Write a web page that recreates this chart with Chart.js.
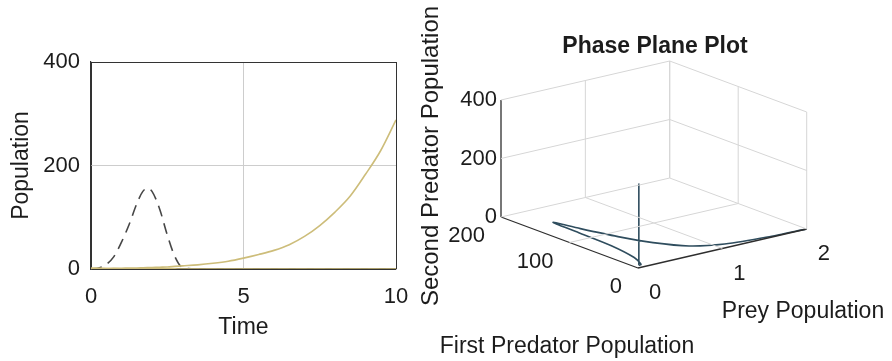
<!DOCTYPE html>
<html>
<head>
<meta charset="utf-8">
<script src="https://cdn.jsdelivr.net/npm/chart.js@4.4.0/dist/chart.umd.min.js"></script>
<style>
  body { margin: 0; background: #fff; }
  #wrap { position: relative; width: 892px; height: 361px; overflow: hidden; }
  #left { position: absolute; left: 0; top: 0; }
  #right { position: absolute; left: 410px; top: 0; }
</style>
</head>
<body>
<div id="wrap">
  <canvas id="left" width="410" height="361"></canvas>
  <canvas id="right" width="482" height="361"></canvas>
</div>
<script>
// values
var timeValues     = [0, 0.25, 0.5, 0.75, 1, 1.25, 1.5, 1.7, 1.85, 2, 2.25, 2.5, 2.75, 3, 3.5, 4, 4.5, 5, 5.5, 6, 6.5, 7, 7.5, 8, 8.5, 9, 9.5, 10];
var preyValues     = [2, 1.55, 1.1, 0.8, 0.6, 0.46, 0.34, 0.28, 0.26, 0.25, 0.24, 0.22, 0.15, 0.06, 0.02, 0.01, 0.01, 0.01, 0.01, 0.01, 0.01, 0.01, 0.01, 0.01, 0.01, 0.01, 0.01, 0.01];
var firstPredator  = [0, 2, 9, 24, 52, 86, 126, 150, 156, 150, 116, 66, 24, 3, 0.3, 0, 0, 0, 0, 0, 0, 0, 0, 0, 0, 0, 0, 0];
var secondPredator = [0.5, 0.7, 1, 1.2, 1.5, 1.7, 2, 2.4, 2.7, 3, 3.5, 4, 5, 6, 8, 11, 15, 21, 28, 36, 47, 63, 84, 110, 141, 183, 229, 288];

var timeTicks = [0, 5, 10];
var popTicks  = [0, 200, 400];
var preyTicks = [0, 1, 2];
var fpTicks   = [0, 100, 200];
var spTicks   = [0, 200, 400];

var FONT = '"Liberation Sans", Arial, sans-serif';
var TEXT = '#1c1c1c';

function series(values) {
  return timeValues.map(function (t, i) { return { x: t, y: values[i] }; });
}

// ---------- left: population against time ----------
new Chart("left", {
  type: "line",
  data: {
    datasets: [
      { data: series(secondPredator), borderColor: '#cdbd7a', borderWidth: 1.6, pointRadius: 0, fill: false, cubicInterpolationMode: 'monotone' },
      { data: series(preyValues), borderColor: '#cdbd7a', borderWidth: 1.6, pointRadius: 0, fill: false, cubicInterpolationMode: 'monotone' },
      { data: series(firstPredator), borderColor: '#474747', borderWidth: 1.6, borderDash: [11, 7], pointRadius: 0, fill: false, cubicInterpolationMode: 'monotone' }
    ]
  },
  options: {
    responsive: false,
    animation: false,
    layout: { padding: { left: 0, top: 62, right: 14, bottom: 0 } },
    plugins: { legend: { display: false }, tooltip: { enabled: false } },
    scales: {
      x: {
        type: 'linear', min: 0, max: 10,
        afterBuildTicks: function (s) { s.ticks = timeTicks.map(function (v) { return { value: v }; }); },
        afterFit: function (s) { s.height = 92; s.paddingLeft = 0; s.paddingRight = 0; },
        ticks: { color: TEXT, font: { family: FONT, size: 22 }, padding: 15, maxRotation: 0 },
        grid: {
          drawTicks: false,
          color: function (c) { return (c.tick && (c.tick.value === 0 || c.tick.value === 10)) ? '#333' : '#cdcdcd'; }
        },
        border: { display: true, color: '#333', width: 1.2 },
        title: { display: true, text: 'Time', color: TEXT, font: { family: FONT, size: 23 }, padding: { top: 0, bottom: 20 } }
      },
      y: {
        type: 'linear', min: 0, max: 400,
        afterBuildTicks: function (s) { s.ticks = popTicks.map(function (v) { return { value: v }; }); },
        afterFit: function (s) { s.width = 91; s.paddingTop = 0; s.paddingBottom = 0; },
        ticks: { color: TEXT, font: { family: FONT, size: 22 }, padding: 11 },
        grid: {
          drawTicks: false,
          color: function (c) { return (c.tick && (c.tick.value === 0 || c.tick.value === 400)) ? '#333' : '#cdcdcd'; }
        },
        border: { display: true, color: '#333', width: 1.2 },
        title: { display: true, text: 'Population', color: TEXT, font: { family: FONT, size: 23 }, padding: { top: 8, bottom: 0 } }
      }
    }
  }
});

// ---------- right: 3-D phase plane, projected onto the canvas ----------
// where the box corner (0,0,0) lands and how one unit of each axis moves on screen
var view = { origin: [228, 93], prey: [84.35, 19.5], first: [-0.685, 0.255], second: [0, 0.2925] };
var preyMax = preyTicks[preyTicks.length - 1], fpMax = fpTicks[fpTicks.length - 1], spMax = spTicks[spTicks.length - 1];

function project(p, f, s) {
  return {
    x: view.origin[0] + p * view.prey[0] + f * view.first[0] + s * view.second[0],
    y: view.origin[1] + p * view.prey[1] + f * view.first[1] + s * view.second[1]
  };
}

function segment(a, b, color, width) {
  return {
    data: [project(a[0], a[1], a[2]), project(b[0], b[1], b[2])],
    showLine: true, borderColor: color, borderWidth: width, pointRadius: 0, tension: 0
  };
}

var sets = [];
var light = '#d6d6d6';
// floor grid
preyTicks.slice(1).forEach(function (p) { sets.push(segment([p, 0, 0], [p, fpMax, 0], light, 1)); });
fpTicks.slice(1).forEach(function (f) { sets.push(segment([0, f, 0], [preyMax, f, 0], light, 1)); });
// back wall at first predator = max
preyTicks.slice(1).forEach(function (p) { sets.push(segment([p, fpMax, 0], [p, fpMax, spMax], light, 1)); });
spTicks.slice(1).forEach(function (s) { sets.push(segment([0, fpMax, s], [preyMax, fpMax, s], light, 1)); });
// back wall at prey = max
fpTicks.forEach(function (f) { sets.push(segment([preyMax, f, 0], [preyMax, f, spMax], light, 1)); });
spTicks.slice(1).forEach(function (s) { sets.push(segment([preyMax, 0, s], [preyMax, fpMax, s], light, 1)); });
// axes
var dark = '#2e2e2e';
sets.push(segment([0, 0, 0], [0, fpMax, 0], dark, 1.3));
sets.push(segment([0, 0, 0], [preyMax, 0, 0], dark, 1.3));
sets.push(segment([0, fpMax, 0], [0, fpMax, spMax], dark, 1.3));
// trajectory
sets.push({
  data: timeValues.map(function (t, i) { return project(preyValues[i], firstPredator[i], secondPredator[i]); }),
  showLine: true, borderColor: '#2f4d5e', borderWidth: 1.6, pointRadius: 0, tension: 0.25
});

var labels3d = {
  id: 'labels3d',
  afterDraw: function (chart) {
    var ctx = chart.ctx, sx = chart.scales.x, sy = chart.scales.y;
    function px(pt) { return [sx.getPixelForValue(pt.x), sy.getPixelForValue(pt.y)]; }
    ctx.save();
    ctx.fillStyle = TEXT;
    ctx.font = '22px ' + FONT;
    ctx.textBaseline = 'middle';
    ctx.textAlign = 'right';
    spTicks.forEach(function (s) { var q = px(project(0, fpMax, s)); ctx.fillText(String(s), q[0] - 4, q[1]); });
    fpTicks.forEach(function (f) { var q = px(project(0, f, 0)); ctx.fillText(String(f), q[0] - 16, q[1] + 19); });
    ctx.textAlign = 'left';
    preyTicks.forEach(function (p) { var q = px(project(p, 0, 0)); ctx.fillText(String(p), q[0] + 11, q[1] + 25); });

    ctx.textBaseline = 'alphabetic';
    ctx.textAlign = 'center';
    ctx.font = '23px ' + FONT;
    ctx.fillText('Prey Population', 393, 318);
    ctx.fillText('First Predator Population', 157, 353);
    ctx.font = 'bold 23px ' + FONT;
    ctx.fillText('Phase Plane Plot', 245, 53);
    ctx.font = '24px ' + FONT;
    ctx.translate(28, 156);
    ctx.rotate(-Math.PI / 2);
    ctx.fillText('Second Predator Population', 0, 0);
    ctx.restore();
  }
};

new Chart("right", {
  type: "scatter",
  data: { datasets: sets },
  plugins: [labels3d],
  options: {
    responsive: false,
    animation: false,
    layout: { padding: 0 },
    plugins: { legend: { display: false }, tooltip: { enabled: false } },
    scales: {
      x: { type: 'linear', display: false, min: 0, max: 482 },
      y: { type: 'linear', display: false, min: 0, max: 361 }
    }
  }
});
</script>
</body>
</html>
